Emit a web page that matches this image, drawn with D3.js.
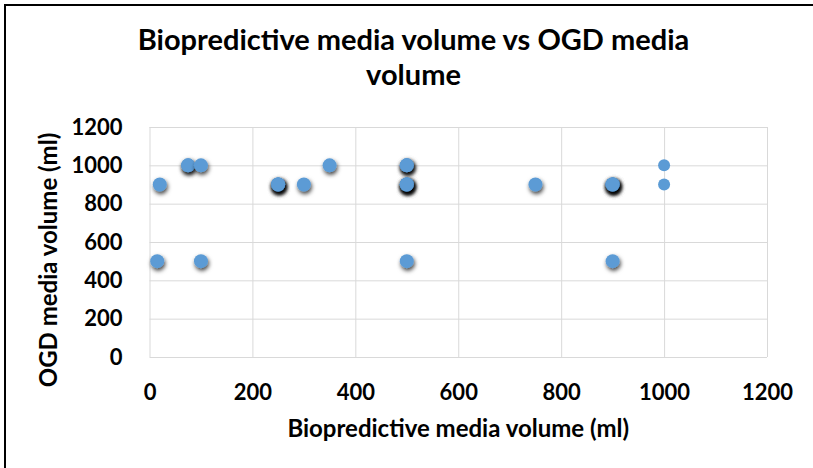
<!DOCTYPE html>
<html>
<head>
<meta charset="utf-8">
<script src="https://cdn.jsdelivr.net/npm/d3@7"></script>
<style>
  html, body { margin: 0; background: #fff; overflow: hidden; }
  svg { display: block; }
  svg text { font-family: Lato, "Open Sans", sans-serif; font-weight: bold; fill: #000; }
</style>
</head>
<body>
<svg id="chart"></svg>
<script>
// Data (duplicates stack up and darken the shadow)
const bioVolume = [15, 20, 75, 75, 100, 100, 250, 250, 250, 250, 300, 350,
                   500, 500, 500, 500, 500, 500, 500, 500, 500, 750,
                   900, 900, 900, 900, 900, 900];
const ogdVolume = [500, 900, 1000, 1000, 1000, 500, 900, 900, 900, 900, 900, 1000,
                   1000, 1000, 1000, 900, 900, 900, 900, 900, 500, 900,
                   900, 900, 900, 900, 900, 500];
// second, smaller markers at 1000 ml
const bioVolume2 = [1000, 1000];
const ogdVolume2 = [1000, 900];

const xTicks = [0, 200, 400, 600, 800, 1000, 1200];
const yTicks = [0, 200, 400, 600, 800, 1000, 1200];

const chartTitle = ["Biopredictive media volume vs OGD media", "volume"];
const xTitle = "Biopredictive media volume (ml)";
const yTitle = "OGD media volume (ml)";

const width = 813, height = 468;
const margin = { top: 127, right: 46, bottom: 111, left: 149.5 };
const plotW = width - margin.left - margin.right;
const plotH = height - margin.top - margin.bottom;

const svg = d3.select("#chart")
    .attr("width", width)
    .attr("height", height);

// chart area border: only the left and top edges fall inside the crop
svg.append("path")
    .attr("d", "M5," + height + "V5H" + width)
    .attr("fill", "none")
    .attr("stroke", "#000")
    .attr("stroke-width", 2);

const defs = svg.append("defs");
const shadow = defs.append("filter")
    .attr("id", "shadow")
    .attr("x", "-100%").attr("y", "-100%")
    .attr("width", "300%").attr("height", "300%");
shadow.append("feDropShadow")
    .attr("dx", 1).attr("dy", 2.5)
    .attr("stdDeviation", 2)
    .attr("flood-color", "#000")
    .attr("flood-opacity", 0.75);

const g = svg.append("g")
    .attr("transform", "translate(" + margin.left + "," + margin.top + ")");

const x = d3.scaleLinear().domain([0, 1200]).range([0, plotW]);
const y = d3.scaleLinear().domain([0, 1200]).range([plotH, 0]);

// gridlines
g.append("g")
    .attr("class", "x-grid")
    .attr("transform", "translate(0," + plotH + ")")
    .call(d3.axisBottom(x).tickValues(xTicks).tickSize(-plotH).tickFormat(""))
    .call(a => a.select(".domain").remove())
    .call(a => a.selectAll("line").attr("stroke", "#d9d9d9"));

g.append("g")
    .attr("class", "y-grid")
    .call(d3.axisLeft(y).tickValues(yTicks).tickSize(-plotW).tickFormat(""))
    .call(a => a.select(".domain").remove())
    .call(a => a.selectAll("line").attr("stroke", "#d9d9d9"));

// tick labels
const xAxis = g.append("g")
    .attr("class", "x-axis")
    .attr("transform", "translate(0," + plotH + ")")
    .call(d3.axisBottom(x).tickValues(xTicks).tickSize(0).tickPadding(27).tickFormat(d3.format("d")));
xAxis.select(".domain").remove();
xAxis.selectAll("text").attr("font-size", 22).attr("font-family", null);

const yAxis = g.append("g")
    .attr("class", "y-axis")
    .call(d3.axisLeft(y).tickValues(yTicks).tickSize(0).tickPadding(27).tickFormat(d3.format("d")));
yAxis.select(".domain").remove();
yAxis.selectAll("text").attr("font-size", 22).attr("font-family", null);

// markers
const points = bioVolume.map((d, i) => ({ bio: d, ogd: ogdVolume[i] }));
const points2 = bioVolume2.map((d, i) => ({ bio: d, ogd: ogdVolume2[i] }));

g.append("g").selectAll("circle")
    .data(points)
    .enter().append("circle")
    .attr("cx", d => x(d.bio))
    .attr("cy", d => y(d.ogd))
    .attr("r", 7)
    .attr("fill", "#5b9bd5")
    .attr("filter", "url(#shadow)");

g.append("g").selectAll("circle")
    .data(points2)
    .enter().append("circle")
    .attr("cx", d => x(d.bio))
    .attr("cy", d => y(d.ogd))
    .attr("r", 6)
    .attr("fill", "#5b9bd5");

// titles
const title = svg.append("text")
    .attr("text-anchor", "middle")
    .attr("font-size", 29);
title.selectAll("tspan")
    .data(chartTitle)
    .enter().append("tspan")
    .attr("x", 413.5)
    .attr("y", (d, i) => 50 + i * 35)
    .text(d => d);

svg.append("text")
    .attr("x", margin.left + plotW / 2)
    .attr("y", 437)
    .attr("text-anchor", "middle")
    .attr("font-size", 24)
    .text(xTitle);

svg.append("text")
    .attr("transform", "rotate(-90)")
    .attr("x", -260)
    .attr("y", 57)
    .attr("text-anchor", "middle")
    .attr("font-size", 24)
    .text(yTitle);
</script>
</body>
</html>
